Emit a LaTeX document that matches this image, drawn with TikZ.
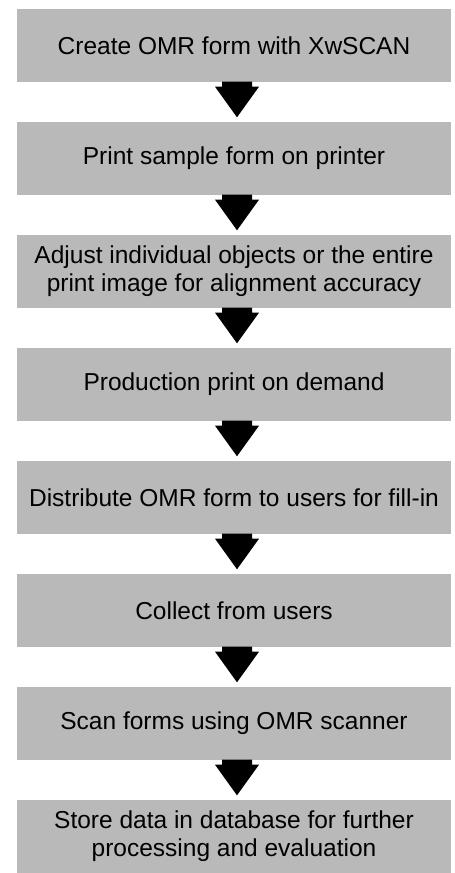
\documentclass[tikz,border=0pt]{standalone}
\usepackage{fontspec}
\setmainfont{Liberation Sans}
\usetikzlibrary{calc}
\definecolor{boxgray}{RGB}{185,185,185}
\tikzset{
  stepbox/.style={fill=boxgray, minimum width=434pt, minimum height=72.5pt,
    inner sep=0pt, align=center, font=\fontsize{24.5}{28}\selectfont},
}
\begin{document}
\begin{tikzpicture}[x=1pt, y=-1pt]
  \useasboundingbox (0,0) rectangle (455,873);
  \node [stepbox] (s1) at (234,45.25) {Create OMR form with XwSCAN};
  \node [stepbox] (s2) at (234,158.25) {Print sample form on printer};
  \node [stepbox] (s3) at (234,271.25) {Adjust individual objects or the entire\\print image for alignment accuracy};
  \node [stepbox] (s4) at (234,384.25) {Production print on demand};
  \node [stepbox] (s5) at (234,497.25) {Distribute OMR form to users for fill-in};
  \node [stepbox] (s6) at (234,610.25) {Collect from users};
  \node [stepbox] (s7) at (234,723.25) {Scan forms using OMR scanner};
  \node [stepbox] (s8) at (234,836.25) {Store data in database for further\\processing and evaluation};
  % fat black arrows between the steps
  \foreach \a/\b in {s1/s2,s2/s3,s3/s4,s4/s5,s5/s6,s6/s7,s7/s8}
    \fill ($(\a.south)+(-12,0)$) -- ($(\a.south)+(-12,5)$) -- ($(\a.south)+(-19,5)$)
      -- ($(\b.north)+(3,-4.5)$)
      -- ($(\a.south)+(25,5)$) -- ($(\a.south)+(18,5)$) -- ($(\a.south)+(18,0)$) -- cycle;
\end{tikzpicture}
\end{document}
